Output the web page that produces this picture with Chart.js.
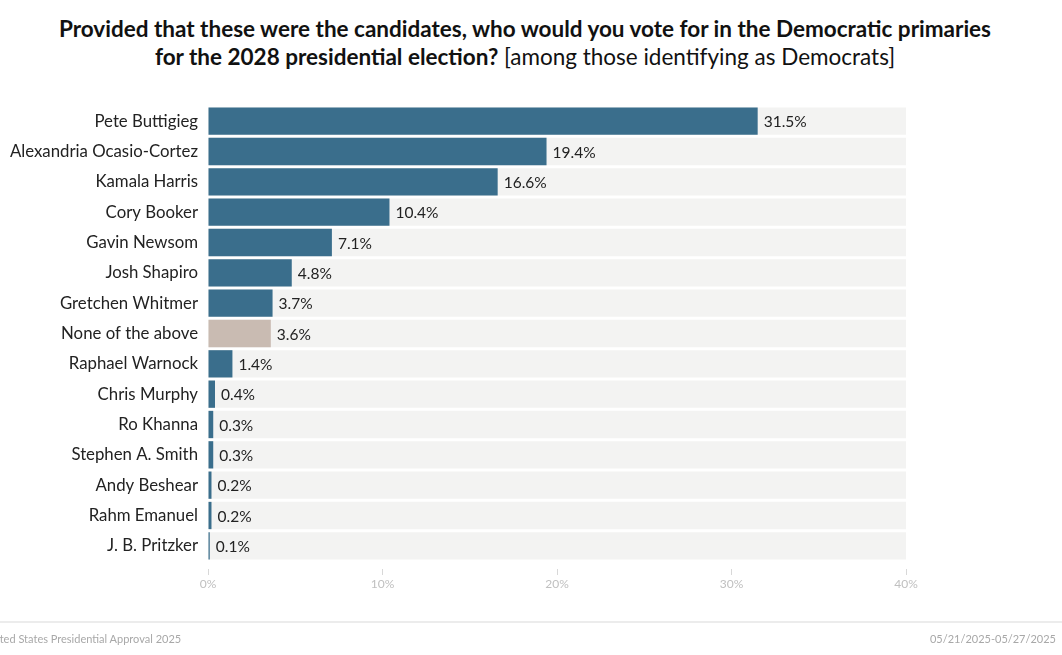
<!DOCTYPE html>
<html>
<head>
<meta charset="utf-8">
<script src="https://cdn.jsdelivr.net/npm/chart.js@4"></script>
<style>
  html, body { margin: 0; padding: 0; background: #fff; }
  body { width: 1062px; height: 655px; position: relative; overflow: hidden; font-family: Lato, sans-serif; }
  #title { position: absolute; top: 15px; left: 0; width: 1050px; text-align: center; font-size: 22.5px; line-height: 28px; color: #111; }
  #title b { font-weight: 700; }
  #chartBox { position: absolute; left: 0; top: 0; width: 1062px; height: 655px; }
  #footLine { position: absolute; left: 0; top: 621px; width: 1062px; height: 2px; background: #ececec; }
  #footLeft { position: absolute; left: -17px; top: 632px; font-size: 11px; color: #a8a8a8; }
  #footRight { position: absolute; right: 6px; top: 632px; font-size: 11px; color: #a8a8a8; }
</style>
</head>
<body>
<div id="title"><b>Provided that these were the candidates, who would you vote for in the Democratic primaries<br>for the 2028 presidential election?</b> [among those identifying as Democrats]</div>
<div id="chartBox"><canvas id="pollChart"></canvas></div>
<div id="footLine"></div>
<div id="footLeft">United States Presidential Approval 2025</div>
<div id="footRight">05/21/2025-05/27/2025</div>
<script>
const candidates = ['Pete Buttigieg', 'Alexandria Ocasio-Cortez', 'Kamala Harris', 'Cory Booker', 'Gavin Newsom',
  'Josh Shapiro', 'Gretchen Whitmer', 'None of the above', 'Raphael Warnock', 'Chris Murphy',
  'Ro Khanna', 'Stephen A. Smith', 'Andy Beshear', 'Rahm Emanuel', 'J. B. Pritzker'];
const shares = [31.5, 19.4, 16.6, 10.4, 7.1, 4.8, 3.7, 3.6, 1.4, 0.4, 0.3, 0.3, 0.2, 0.2, 0.1];
const axisTicks = [0, 10, 20, 30, 40];
const axisMax = axisTicks[axisTicks.length - 1];

// "None of the above" gets the beige colour, everyone else blue
const barColors = candidates.map(c => c === 'None of the above' ? '#c9bbb2' : '#3a6e8c');

// percent labels just past the end of each bar
const valueLabels = {
  id: 'valueLabels',
  afterDatasetsDraw(chart) {
    const ctx = chart.ctx;
    const meta = chart.getDatasetMeta(0);
    ctx.save();
    ctx.font = '15.5px Lato';
    ctx.fillStyle = '#222';
    ctx.textAlign = 'left';
    ctx.textBaseline = 'middle';
    meta.data.forEach((bar, i) => {
      ctx.fillText(shares[i].toFixed(1) + '%', bar.x + 6, bar.y + 1);
    });
    ctx.restore();
  }
};

new Chart(document.getElementById('pollChart'), {
  type: 'bar',
  data: {
    labels: candidates,
    datasets: [{
      data: shares,
      backgroundColor: barColors,
      grouped: false,
      barPercentage: 0.9,
      categoryPercentage: 1
    }, {
      // light grey track behind every row
      data: candidates.map(() => axisMax),
      backgroundColor: '#f3f3f2',
      grouped: false,
      barPercentage: 0.9,
      categoryPercentage: 1
    }]
  },
  options: {
    indexAxis: 'y',
    responsive: true,
    maintainAspectRatio: false,
    animation: false,
    layout: { padding: { top: 106, right: 156, bottom: 64, left: 0 } },
    scales: {
      x: {
        min: 0,
        max: axisMax,
        afterBuildTicks: s => { s.ticks = axisTicks.map(v => ({ value: v })); },
        afterFit: s => { s.height = 30; },
        border: { display: false },
        grid: { drawOnChartArea: false, tickLength: 14, tickColor: '#d8d8d8', tickBorderDash: [0, 8, 6, 40] },
        ticks: { padding: 2, color: '#c0c0c0', font: { family: 'Lato', size: 12 }, callback: v => v + '%' }
      },
      y: {
        afterFit: s => { s.width = 208; },
        border: { display: false },
        grid: { display: false },
        ticks: { padding: 2, color: '#222', font: { family: 'Lato', size: 16.8 } }
      }
    },
    plugins: { legend: { display: false }, tooltip: { enabled: false } }
  },
  plugins: [valueLabels]
});
</script>
</body>
</html>
